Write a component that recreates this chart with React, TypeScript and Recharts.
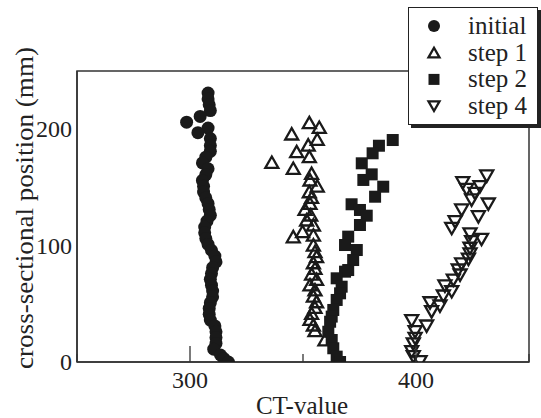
import React from 'react';
import { ScatterChart, Scatter, XAxis, YAxis, ReferenceArea, Label } from 'recharts';

const FONT = 'Liberation Serif, Times New Roman, serif';
const INK = '#1a1a1a';

const xTicks = [250, 300, 350, 400, 450];
const xTickLabels = [300, 400];
const yTicks = [0, 100, 200];

const initialData = [
    { x: 308, y: 231 }, { x: 308, y: 226 }, { x: 308.5, y: 221 }, { x: 309, y: 216 },
    { x: 304.5, y: 211 }, { x: 298.5, y: 206 }, { x: 308, y: 201 }, { x: 303.5, y: 197 },
    { x: 309, y: 192 }, { x: 309, y: 186 }, { x: 309, y: 181 }, { x: 307, y: 176 },
    { x: 305.5, y: 171 }, { x: 308, y: 166 }, { x: 307, y: 161 }, { x: 305.5, y: 156 },
    { x: 306, y: 151 }, { x: 306, y: 146 }, { x: 307, y: 141 }, { x: 308, y: 136 },
    { x: 308.5, y: 131 }, { x: 309, y: 126 }, { x: 307.5, y: 121 }, { x: 306.5, y: 116 },
    { x: 306.5, y: 111 }, { x: 307, y: 106 }, { x: 308, y: 101 }, { x: 309.5, y: 96 },
    { x: 311, y: 91 }, { x: 311.5, y: 86 }, { x: 310, y: 81 }, { x: 309.5, y: 76 },
    { x: 309, y: 71 }, { x: 309.5, y: 66 }, { x: 310, y: 61 }, { x: 310, y: 56 },
    { x: 309, y: 51 }, { x: 308.5, y: 46 }, { x: 308.5, y: 41 }, { x: 309, y: 36 },
    { x: 311, y: 31 }, { x: 311.5, y: 26 }, { x: 311.5, y: 21 }, { x: 311.5, y: 16 },
    { x: 310.5, y: 11 }, { x: 313.5, y: 6 }, { x: 315, y: 3 }, { x: 317, y: 0 },
];

const step1Data = [
    { x: 352.8, y: 205.6 }, { x: 357.2, y: 201.6 }, { x: 345, y: 195.9 }, { x: 356.3, y: 191.3 },
    { x: 352.3, y: 186.4 }, { x: 347.2, y: 180.7 }, { x: 352.8, y: 176.4 }, { x: 336.2, y: 171.5 },
    { x: 345.7, y: 166.4 }, { x: 353.8, y: 162 }, { x: 353.1, y: 156.4 }, { x: 356.3, y: 151.2 },
    { x: 352.8, y: 146.3 }, { x: 353.8, y: 141.4 }, { x: 353.1, y: 136.3 }, { x: 350.9, y: 131.1 },
    { x: 353.4, y: 126.3 }, { x: 351.6, y: 122 }, { x: 354.6, y: 117.7 }, { x: 349.8, y: 112 },
    { x: 345.7, y: 107.6 }, { x: 354.6, y: 109 }, { x: 354.6, y: 100.5 }, { x: 355.3, y: 94.8 },
    { x: 356, y: 90.5 }, { x: 354.6, y: 85.3 }, { x: 355.3, y: 80.5 }, { x: 353.8, y: 75.6 },
    { x: 356, y: 71 }, { x: 353.1, y: 66.2 }, { x: 355.3, y: 61.9 }, { x: 354.6, y: 56.7 },
    { x: 356, y: 51.8 }, { x: 355.3, y: 47 }, { x: 353.8, y: 41.8 }, { x: 353.1, y: 36.7 },
    { x: 354.6, y: 31.8 }, { x: 355.3, y: 26.9 }, { x: 359.7, y: 19 },
];

const step2Data = [
    { x: 389.7, y: 190.7 }, { x: 383.6, y: 185.8 }, { x: 380.8, y: 179.3 }, { x: 376, y: 170.7 },
    { x: 380.4, y: 161.2 }, { x: 376.7, y: 156.4 }, { x: 385.5, y: 150.6 }, { x: 381.9, y: 142 },
    { x: 371.5, y: 135.5 }, { x: 375.2, y: 130.6 }, { x: 378.2, y: 125.7 }, { x: 375.2, y: 117.7 },
    { x: 370, y: 107.7 }, { x: 368.6, y: 100.5 }, { x: 373.8, y: 96.2 }, { x: 372.2, y: 87.6 },
    { x: 370, y: 79 }, { x: 368.6, y: 77.6 }, { x: 364.9, y: 71.9 }, { x: 367.1, y: 64.7 },
    { x: 366.4, y: 59 }, { x: 364.9, y: 53.3 }, { x: 363.4, y: 44.7 }, { x: 362.7, y: 39 },
    { x: 362, y: 34.6 }, { x: 361.2, y: 26 }, { x: 362.7, y: 18.9 }, { x: 363.4, y: 11.8 },
    { x: 364.9, y: 4.6 }, { x: 366.4, y: 0 },
];

const step4Data = [
    { x: 431.3, y: 159.8 }, { x: 420.7, y: 154 }, { x: 428.3, y: 150.6 }, { x: 422.4, y: 148.3 },
    { x: 426.1, y: 144.9 }, { x: 424.6, y: 139.2 }, { x: 432, y: 135.7 }, { x: 420.2, y: 130.6 },
    { x: 427.6, y: 124.8 }, { x: 417.3, y: 120.5 }, { x: 415.8, y: 114.8 }, { x: 423.9, y: 110 },
    { x: 429, y: 105.4 }, { x: 424.6, y: 103.4 }, { x: 423.9, y: 97.7 }, { x: 423.9, y: 92.8 },
    { x: 423.2, y: 88.3 }, { x: 420.2, y: 84.2 }, { x: 418.7, y: 79 }, { x: 419.5, y: 74.7 },
    { x: 416.5, y: 70.4 }, { x: 412.8, y: 65.3 }, { x: 415.8, y: 60.4 }, { x: 412.1, y: 56.7 },
    { x: 406.2, y: 50.9 }, { x: 410.6, y: 48.1 }, { x: 406.9, y: 43.2 }, { x: 398.1, y: 35.5 },
    { x: 404.7, y: 30.9 }, { x: 399.6, y: 26 }, { x: 399.6, y: 20.3 }, { x: 398.8, y: 15.5 },
    { x: 398.1, y: 8.9 }, { x: 398.8, y: 4.6 }, { x: 401.8, y: 0.3 },
];

// marker shapes
const dot = (cx: number, cy: number, r = 6.5) => <circle cx={cx} cy={cy} r={r} fill={INK} />;
const triUp = (cx: number, cy: number, s = 6.5) => (
    <polygon points={`${cx - s},${cy + s * 0.85} ${cx + s},${cy + s * 0.85} ${cx},${cy - s * 0.9}`}
        fill="none" stroke={INK} strokeWidth={2.3} />
);
const square = (cx: number, cy: number, s = 6) => <rect x={cx - s} y={cy - s} width={s * 2} height={s * 2} fill={INK} />;
const triDown = (cx: number, cy: number, s = 6.5) => (
    <polygon points={`${cx - s},${cy - s * 0.85} ${cx + s},${cy - s * 0.85} ${cx},${cy + s * 0.9}`}
        fill="none" stroke={INK} strokeWidth={2.3} />
);

const series = [
    { name: 'initial', data: initialData, draw: dot },
    { name: 'step 1', data: step1Data, draw: triUp },
    { name: 'step 2', data: step2Data, draw: square },
    { name: 'step 4', data: step4Data, draw: triDown },
];

const XTick = (props: any) => {
    const { x, y, payload } = props;
    const v = payload.value;
    const len = v === 300 || v === 400 ? 16 : 8;
    return (
        <g>
            <line x1={x} y1={y} x2={x} y2={y - len} stroke="#333" strokeWidth={1.3} />
            {xTickLabels.includes(v) && (
                <text x={x} y={y + 26} textAnchor="middle" style={{ fontFamily: FONT }} fontSize={24} fill="#222">{v}</text>
            )}
        </g>
    );
};

const YTick = (props: any) => {
    const { x, y, payload } = props;
    return (
        <text x={x - 5} y={y + 8} textAnchor="end" style={{ fontFamily: FONT }} fontSize={24} fill="#222">{payload.value}</text>
    );
};

const Legend = () => (
    <div style={{
        position: 'absolute', left: 408, top: 7, width: 128, height: 116,
        border: '1.5px solid #222', background: '#fff', boxShadow: '3px 3px 0 #222',
    }}>
        <svg width={128} height={116}>
            {series.map((s, i) => (
                <g key={s.name}>
                    {s.draw(25, 18 + i * 26.7, s.name === 'initial' ? 6 : 5.5)}
                    <text x={59} y={26 + i * 26.7} style={{ fontFamily: FONT }} fontSize={25} fill="#222">{s.name}</text>
                </g>
            ))}
        </svg>
    </div>
);

export default function App() {
    return (
        <div style={{ position: 'absolute', left: 0, top: 0, width: 541, height: 418, background: '#fff' }}>
            <ScatterChart width={541} height={418} margin={{ top: 71, right: 12, left: 0, bottom: 0 }}>
                <XAxis type="number" dataKey="x" domain={[250, 450]} ticks={xTicks} height={56}
                    tickSize={0} tickMargin={0} tick={<XTick />} axisLine={{ stroke: '#333', strokeWidth: 1.5 }}
                    allowDataOverflow>
                    <Label content={() => (
                        <text x={302} y={414} textAnchor="middle" style={{ fontFamily: FONT }} fontSize={25} fill="#222">CT-value</text>
                    )} />
                </XAxis>
                <YAxis type="number" dataKey="y" domain={[0, 250]} ticks={yTicks} width={77}
                    tickSize={0} tickMargin={0} tick={<YTick />} axisLine={{ stroke: '#333', strokeWidth: 1.5 }}
                    allowDataOverflow>
                    <Label content={() => (
                        <text x={33} y={208} transform="rotate(-90 33 208)" textAnchor="middle" style={{ fontFamily: FONT }}
                            fontSize={25} fill="#222" textLength={322} lengthAdjust="spacingAndGlyphs">
                            cross-sectional position (mm)
                        </text>
                    )} />
                </YAxis>
                <ReferenceArea x1={250} x2={450} y1={0} y2={250} fill="none" stroke="#333" strokeWidth={1.5} />
                {series.map((s) => (
                    <Scatter key={s.name} name={s.name} data={s.data} isAnimationActive={false}
                        shape={(p: any) => s.draw(p.cx, p.cy)} />
                ))}
            </ScatterChart>
            <Legend />
        </div>
    );
}
